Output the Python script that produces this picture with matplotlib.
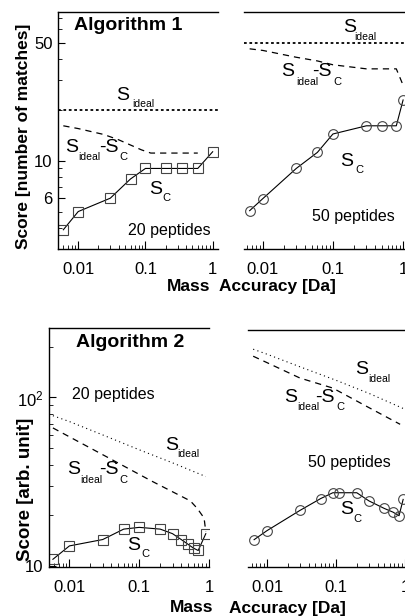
import matplotlib
matplotlib.use("Agg")
import matplotlib.pyplot as plt
from matplotlib.ticker import FixedLocator, NullFormatter, LogLocator

plt.rcParams['font.family'] = ['Liberation Sans', 'DejaVu Sans']
plt.rcParams['mathtext.fontset'] = 'custom'
plt.rcParams['mathtext.rm'] = 'Liberation Sans'
plt.rcParams['mathtext.it'] = 'Liberation Sans'

# algorithm 1, 20 peptides (number of matches)
acc_a1_20 = [0.006, 0.01, 0.03, 0.06, 0.1, 0.2, 0.35, 0.6, 1.0]
sc_a1_20 = [3.9, 5.0, 6.0, 7.8, 9.0, 9.0, 9.0, 9.0, 11.3]
ideal_a1_20 = 20
gapx_a1_20 = [0.006, 0.01, 0.024, 0.04, 0.087, 0.12, 0.6]
gap_a1_20 = [16.1, 15.5, 14.3, 13.3, 11.6, 11.1, 11.1]

# algorithm 1, 50 peptides
acc_a1_50 = [0.0065, 0.01, 0.03, 0.06, 0.1, 0.3, 0.5, 0.8, 1.0]
sc_a1_50 = [5.06, 5.96, 9.0, 11.2, 14.4, 16.1, 16.1, 16.1, 22.9]
ideal_a1_50 = 50
gapx_a1_50 = [0.0065, 0.01, 0.03, 0.06, 0.1, 0.3, 0.5, 0.8, 1.0]
gap_a1_50 = [46, 45, 41, 39, 37, 35, 35, 35, 28]

# algorithm 2, 20 peptides (arb. unit)
acc_a2_20 = [0.0058, 0.01, 0.03, 0.06, 0.1, 0.2, 0.3, 0.4, 0.5, 0.6, 0.7, 0.9]
sc_a2_20 = [11.0, 13.2, 14.4, 16.6, 17.0, 16.6, 15.6, 14.4, 13.5, 12.8, 12.4, 15.6]
idealx_a2_20 = [0.0058, 0.01, 0.03, 0.1, 0.3, 0.9]
ideal_a2_20 = [78, 72, 60, 49, 41, 34]
gapx_a2_20 = [0.0058, 0.036, 0.15, 0.54, 0.68, 0.85, 0.9]
gap_a2_20 = [66, 44, 32, 24.4, 22, 19.3, 16]

# algorithm 2, 50 peptides
acc_a2_50 = [0.0065, 0.01, 0.03, 0.06, 0.09, 0.11, 0.2, 0.3, 0.5, 0.67, 0.82, 0.94]
sc_a2_50 = [14.4, 16.3, 21.5, 25.3, 27.4, 27.4, 27.4, 24.5, 22.1, 21, 20, 25]
idealx_a2_50 = [0.0063, 0.01, 0.03, 0.1, 0.3, 0.94]
ideal_a2_50 = [196, 183, 154, 128, 107, 87]
gapx_a2_50 = [0.0063, 0.01, 0.03, 0.09, 0.3, 0.85]
gap_a2_50 = [178, 163, 132, 115, 88, 70]

W, H = 405, 616
fig = plt.figure(figsize=(W / 100, H / 100), dpi=100)


def box(x0, y0, x1, y1):
    return [x0 / W, 1 - y1 / H, (x1 - x0) / W, (y1 - y0) / H]


def ptxt(x, y, s, size=14, **kw):
    kw.setdefault('ha', 'center')
    kw.setdefault('va', 'center')
    fig.text(x / W, 1 - y / H, s, fontsize=size, **kw)


def style(ax, xlim, ylim, spines):
    ax.set_xscale('log')
    ax.set_yscale('log')
    ax.set_xlim(*xlim)
    ax.set_ylim(*ylim)
    for k, sp in ax.spines.items():
        sp.set_visible(k in spines)
        sp.set_linewidth(1.0)
    ax.xaxis.set_major_locator(FixedLocator([0.01, 0.1, 1]))
    ax.xaxis.set_minor_locator(LogLocator(base=10, subs=range(2, 10)))
    ax.set_xticklabels(['0.01', '0.1', '1'])
    ax.xaxis.set_minor_formatter(NullFormatter())
    ax.tick_params(axis='x', which='major', direction='in', length=6, width=0.8,
                   labelsize=12, pad=9, top=False)
    ax.tick_params(axis='x', which='minor', direction='in', length=3, width=0.6, top=False)
    ax.patch.set_alpha(0)


sc_kw = dict(color='black', lw=0.8, mfc='none', mec='#444444', mew=0.8, ms=7)
dot_kw = dict(color='black', lw=1.3, linestyle=(0, (1.5, 1.5)))
dot2_kw = dict(color='black', lw=0.8, linestyle=(0, (1, 3)))
dash_kw = dict(color='black', lw=0.9, linestyle=(0, (5, 4)))

# top left
ax1 = fig.add_axes(box(58, 12, 218, 249))
style(ax1, (0.005, 1.2), (3.0, 76), ['left', 'top', 'bottom'])
ax1.axhline(ideal_a1_20, **dot_kw)
ax1.plot(gapx_a1_20, gap_a1_20, **dash_kw)
ax1.plot(acc_a1_20, sc_a1_20, marker='s', **sc_kw)
ax1.yaxis.set_major_locator(FixedLocator([6, 10, 50]))
ax1.set_yticklabels(['6', '10', '50'])
ax1.yaxis.set_minor_locator(FixedLocator([3, 4, 5, 7, 8, 9, 20, 30, 40, 60, 70]))
ax1.yaxis.set_minor_formatter(NullFormatter())
ax1.tick_params(axis='y', which='major', direction='in', length=5, labelsize=12, pad=4, right=False)
ax1.tick_params(axis='y', which='minor', direction='in', length=3, right=False)

# top right
ax2 = fig.add_axes(box(244, 12, 404, 249))
style(ax2, (0.0054, 1.03), (3.0, 76), ['top', 'bottom'])
ax2.axhline(ideal_a1_50, **dot_kw)
ax2.plot(gapx_a1_50, gap_a1_50, **dash_kw)
ax2.plot(acc_a1_50, sc_a1_50, marker='o', **sc_kw)
ax2.set_yticks([])
ax2.yaxis.set_minor_locator(FixedLocator([]))

# bottom left
ax3 = fig.add_axes(box(49, 328, 209, 567))
style(ax3, (0.0051, 1.0), (9.9, 258), ['left', 'top', 'bottom'])
ax3.plot(idealx_a2_20, ideal_a2_20, **dot2_kw)
ax3.plot(gapx_a2_20, gap_a2_20, **dash_kw)
ax3.plot(acc_a2_20, sc_a2_20, marker='s', **sc_kw)
ax3.yaxis.set_major_locator(FixedLocator([10, 100]))
ax3.set_yticklabels(['10', '$10^2$'])
ax3.yaxis.set_minor_locator(LogLocator(base=10, subs=range(2, 10)))
ax3.yaxis.set_minor_formatter(NullFormatter())
ax3.tick_params(axis='y', which='major', direction='in', length=5, labelsize=12, pad=4, right=False)
ax3.tick_params(axis='y', which='minor', direction='in', length=3, right=False)

# bottom right
ax4 = fig.add_axes(box(248, 330, 405, 567))
style(ax4, (0.0053, 1.0), (9.9, 255), ['top', 'bottom'])
ax4.plot(idealx_a2_50, ideal_a2_50, **dot2_kw)
ax4.plot(gapx_a2_50, gap_a2_50, **dash_kw)
ax4.plot(acc_a2_50, sc_a2_50, marker='o', **sc_kw)
ax4.set_yticks([])
ax4.yaxis.set_minor_locator(FixedLocator([]))


def s_ideal(xs, y, sub_x):
    ptxt(xs, y, 'S', 14)
    ptxt(sub_x, y + 9, 'ideal', 7.5, ha='left')


def s_gap(xs, y, sub_x, ms_x, c_x):
    ptxt(xs, y, 'S', 14)
    ptxt(sub_x, y + 10, 'ideal', 7.5, ha='left')
    ptxt(ms_x, y, '-S', 14, ha='left')
    ptxt(c_x, y + 10, 'C', 8, ha='left')


def s_c(xs, y, c_x):
    ptxt(xs, y, 'S', 14)
    ptxt(c_x, y + 9, 'C', 8, ha='left')


# top left texts
ptxt(128, 25, 'Algorithm 1', 14, fontweight='bold')
s_ideal(123, 95, 132)
s_gap(72, 147, 78, 99, 119)
s_c(156, 189, 162)
ptxt(169, 230, '20 peptides', 11.5)

# top right texts
s_ideal(350, 28, 354)
s_gap(288, 72, 296, 312, 333)
s_c(347, 161, 355)
ptxt(353, 217, '50 peptides', 11.5)

# bottom left texts
ptxt(130, 343, 'Algorithm 2', 14, fontweight='bold')
ptxt(113, 395, '20 peptides', 11.5)
s_ideal(172, 445, 177)
s_gap(74, 470, 80, 99, 119)
s_c(134, 545, 141)

# bottom right texts
s_ideal(362, 370, 368)
s_gap(291, 397, 297, 315, 336)
ptxt(349, 462, '50 peptides', 11.5)
s_c(347, 510, 353)

# axis labels
ptxt(24, 136, 'Score [number of matches]', 12.5, fontweight='bold', rotation=90)
ptxt(25, 489, 'Score [arb. unit]', 13.5, fontweight='bold', rotation=90)
ptxt(189, 287, 'Mass', 12.5, fontweight='bold')
ptxt(277, 287, 'Accuracy [Da]', 12.5, fontweight='bold')
ptxt(192, 608, 'Mass', 12.5, fontweight='bold')
ptxt(287, 608, 'Accuracy [Da]', 12.5, fontweight='bold')

fig.savefig('out.png', dpi=100)
